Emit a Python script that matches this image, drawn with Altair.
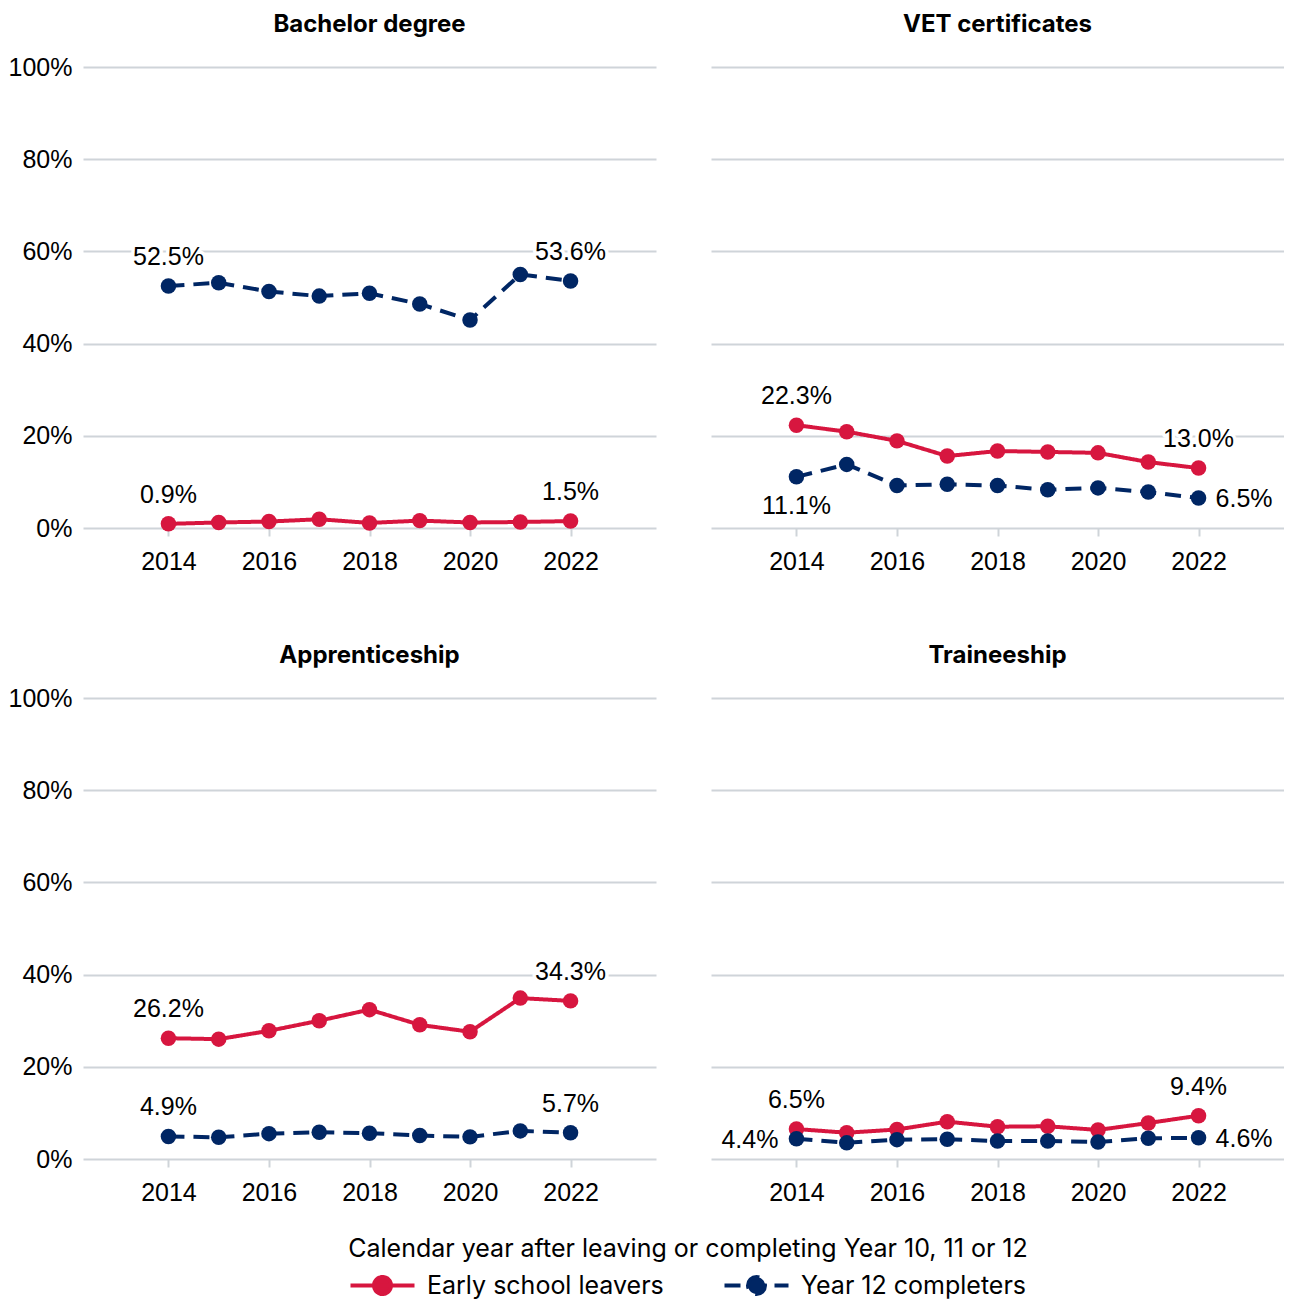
import altair as alt
import pandas as pd

years = [2014, 2015, 2016, 2017, 2018, 2019, 2020, 2021, 2022]
panels = ["Bachelor degree", "VET certificates", "Apprenticeship", "Traineeship"]
series = ["Early school leavers", "Year 12 completers"]
colors = ["#d7163f", "#002664"]

bachelor_early = [0.9, 1.2, 1.4, 1.9, 1.1, 1.6, 1.2, 1.3, 1.5]
bachelor_y12 = [52.5, 53.2, 51.3, 50.3, 50.9, 48.6, 45.1, 55.0, 53.6]
vet_early = [22.3, 20.9, 18.9, 15.6, 16.7, 16.5, 16.3, 14.3, 13.0]
vet_y12 = [11.1, 13.8, 9.2, 9.5, 9.2, 8.3, 8.7, 7.8, 6.5]
app_early = [26.2, 26.0, 27.8, 30.0, 32.4, 29.1, 27.6, 34.9, 34.3]
app_y12 = [4.9, 4.7, 5.5, 5.8, 5.6, 5.1, 4.8, 6.1, 5.7]
tra_early = [6.5, 5.7, 6.4, 8.1, 7.0, 7.1, 6.3, 7.8, 9.4]
tra_y12 = [4.4, 3.5, 4.2, 4.3, 3.9, 3.9, 3.7, 4.5, 4.6]

values = {
    ("Bachelor degree", "Early school leavers"): bachelor_early,
    ("Bachelor degree", "Year 12 completers"): bachelor_y12,
    ("VET certificates", "Early school leavers"): vet_early,
    ("VET certificates", "Year 12 completers"): vet_y12,
    ("Apprenticeship", "Early school leavers"): app_early,
    ("Apprenticeship", "Year 12 completers"): app_y12,
    ("Traineeship", "Early school leavers"): tra_early,
    ("Traineeship", "Year 12 completers"): tra_y12,
}

# where the first / last value label sits relative to its point
label_side = {
    ("Bachelor degree", "Early school leavers"): ("above", "above"),
    ("Bachelor degree", "Year 12 completers"): ("above", "above"),
    ("VET certificates", "Early school leavers"): ("above", "above"),
    ("VET certificates", "Year 12 completers"): ("below", "right"),
    ("Apprenticeship", "Early school leavers"): ("above", "above"),
    ("Apprenticeship", "Year 12 completers"): ("above", "above"),
    ("Traineeship", "Early school leavers"): ("above", "above"),
    ("Traineeship", "Year 12 completers"): ("left", "right"),
}

rows = []
for (panel, s), vals in values.items():
    first, last = label_side[(panel, s)]
    for i, (yr, v) in enumerate(zip(years, vals)):
        pos = first if i == 0 else (last if i == len(years) - 1 else "")
        rows.append({"panel": panel, "series": s, "year": yr, "value": v, "pos": pos})
df = pd.DataFrame(rows)

NUM_FONT = "Liberation Sans"
TXT_FONT = "Inter"
GRID = "#cfd4d9"

x_enc = alt.X(
    "year:Q",
    scale=alt.Scale(domain=[2012.3, 2023.7], nice=False, zero=False),
    axis=alt.Axis(values=[2014, 2016, 2018, 2020, 2022], format="d", title=None,
                  domain=False, grid=False, ticks=True, tickSize=8, tickWidth=2,
                  tickColor=GRID, labelFontSize=25, labelFont=NUM_FONT,
                  labelColor="#000000", labelPadding=13),
)
y_enc = alt.Y(
    "value:Q",
    scale=alt.Scale(domain=[0, 100], nice=False),
    axis=alt.Axis(values=[0, 20, 40, 60, 80, 100], labelExpr="datum.value + '%'",
                  title=None, domain=False, ticks=False, gridColor=GRID, gridWidth=2,
                  labelPadding=11, labelFontSize=25, labelFont=NUM_FONT,
                  labelColor="#000000"),
)

# legend symbol: a line with a dot in the middle (path in symbol units)
SYMBOL = "M-3.2,0H3.2M-0.85,0A0.85,0.85,0,1,1,0.85,0A0.85,0.85,0,1,1,-0.85,0Z"
legend = alt.Legend(
    title=None, orient="none", legendX=287, legendY=1206, direction="horizontal",
    symbolType=SYMBOL, symbolSize=400, symbolStrokeWidth=4, labelFontSize=25,
    labelFont=TXT_FONT, labelColor="#000000", columnPadding=52, labelOffset=32,
    labelLimit=500,
)

color_scale = alt.Scale(domain=series, range=colors)
base = alt.Chart()

line = base.mark_line(strokeWidth=4).encode(
    x=x_enc, y=y_enc,
    stroke=alt.Stroke("series:N", scale=color_scale, legend=legend),
    strokeDash=alt.StrokeDash("series:N",
                              scale=alt.Scale(domain=series, range=[[1, 0], [16, 9]]),
                              legend=legend),
)
points = base.mark_point(filled=True, size=240, opacity=1).encode(
    x=x_enc, y=y_enc,
    fill=alt.Fill("series:N", scale=color_scale, legend=legend),
)

placements = {
    "above": dict(dx=0, dy=-29, align="center"),
    "below": dict(dx=0, dy=29, align="center"),
    "right": dict(dx=17, dy=1, align="left"),
    "left": dict(dx=-18, dy=1, align="right"),
}
texts = []
for p, kw in placements.items():
    t = base.transform_filter(alt.datum.pos == p).transform_calculate(
        label="format(datum.value, '.1f') + '%'"
    )
    texts.append(t.mark_text(baseline="middle", fontSize=25, font=NUM_FONT,
                             stroke="white", strokeWidth=7, strokeJoin="round",
                             color="white", **kw).encode(x=x_enc, y=y_enc, text="label:N"))
    texts.append(t.mark_text(baseline="middle", fontSize=25, font=NUM_FONT,
                             color="#000000", **kw).encode(x=x_enc, y=y_enc, text="label:N"))

layered = alt.layer(line, points, *texts, data=df).properties(width=573, height=461)

chart = layered.facet(
    facet=alt.Facet("panel:N", sort=panels,
                    header=alt.Header(title=None, labelFontSize=24, labelFontWeight="bold",
                                      labelFont=TXT_FONT, labelColor="#000000",
                                      labelPadding=30)),
    columns=2,
    spacing={"row": 70, "column": 55},
).resolve_axis(x="independent").properties(
    title=alt.TitleParams("Calendar year after leaving or completing Year 10, 11 or 12",
                          orient="bottom", anchor="middle", frame="group", dx=605,
                          fontSize=25, fontWeight="normal", font=TXT_FONT,
                          color="#000000", offset=-65),
    padding={"left": 0, "top": 5, "right": 0, "bottom": 0},
).configure_view(stroke=None)

chart.save("out.html", embed_options={"renderer": "svg", "actions": False})
